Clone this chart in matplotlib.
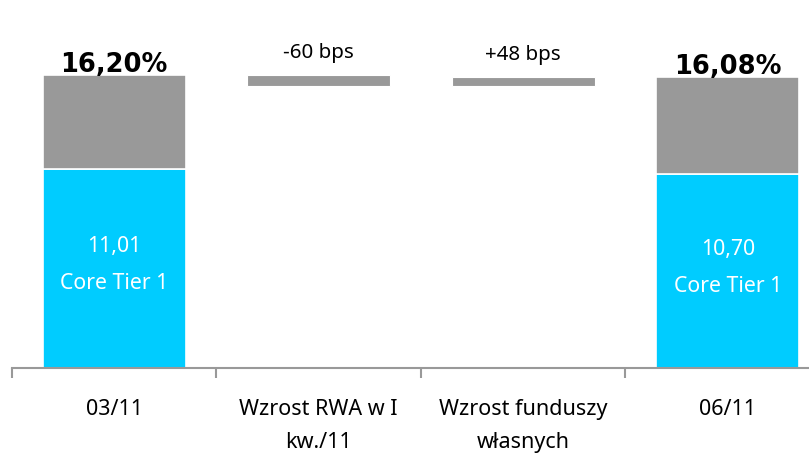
import matplotlib
matplotlib.use("Agg")
import matplotlib.pyplot as plt
import numpy as np

plt.rcParams["font.family"] = ["Noto Sans", "DejaVu Sans"]

# dane
categories = ["03/11", "Wzrost RWA w I\nkw./11", "Wzrost funduszy\nwłasnych", "06/11"]
core_tier1 = [11.01, 10.70]       # 03/11, 06/11
total_ratio = [16.20, 16.08]      # 03/11, 06/11
changes_bps = [-60, 48]           # RWA, fundusze

CYAN = "#00CCFF"
GRAY = "#999999"

fig = plt.figure(figsize=(8.09, 4.55), dpi=100)
ax = fig.add_axes([12 / 809, 1 - 368 / 455, 818 / 809, 18 * 18.09 / 455])

x = np.arange(len(categories))
w = 0.70

# slupki skrajne (stacked)
ends = [0, 3]
for i, xi in enumerate(ends):
    ct = core_tier1[i]
    tot = total_ratio[i]
    ax.bar(xi, ct, w, color=CYAN, edgecolor="white", linewidth=1.2)
    ax.bar(xi, tot - ct, w, bottom=ct, color=GRAY, edgecolor="white", linewidth=1.2)
    ax.text(xi, ct / 2 + 0.2, f"{ct:.2f}".replace(".", ",") + "\nCore Tier 1",
            ha="center", va="center", color="white", fontsize=15.3, linespacing=2.0)
    ax.annotate(f"{tot:.2f}".replace(".", ",") + "%", (xi, tot), xytext=(0, 2),
                textcoords="offset points", ha="center", va="baseline",
                fontsize=18.5, fontweight="bold", color="black", family="DejaVu Sans")

# slupki plywajace
level = total_ratio[0]
for j, ch in enumerate(changes_bps):
    xi = j + 1
    d = ch / 100
    bottom = min(level, level + d)
    ax.bar(xi, abs(d), w, bottom=bottom, color=GRAY, edgecolor="white", linewidth=0.8)
    lbl = f"{ch:+d} bps"
    ax.annotate(lbl, (xi, bottom + abs(d)), xytext=(0, 12), textcoords="offset points",
                ha="center", va="baseline", fontsize=14.8, color="black")
    level += d

ax.set_xlim(-0.5, 3.5)
ax.set_ylim(0, 18)

for s in ["top", "right", "left"]:
    ax.spines[s].set_visible(False)
ax.spines["bottom"].set_color(GRAY)
ax.spines["bottom"].set_linewidth(1.5)
ax.set_yticks([])

ax.set_xticks(x)
ax.set_xticklabels(categories, fontsize=15.5, linespacing=1.75, va="top")
ax.tick_params(axis="x", which="major", length=0, pad=22)
ax.set_xticks(np.arange(-0.5, 4.0, 1.0), minor=True)
ax.tick_params(axis="x", which="minor", length=7, width=1.5, color=GRAY, direction="out")

fig.savefig("out.png", dpi=100)
